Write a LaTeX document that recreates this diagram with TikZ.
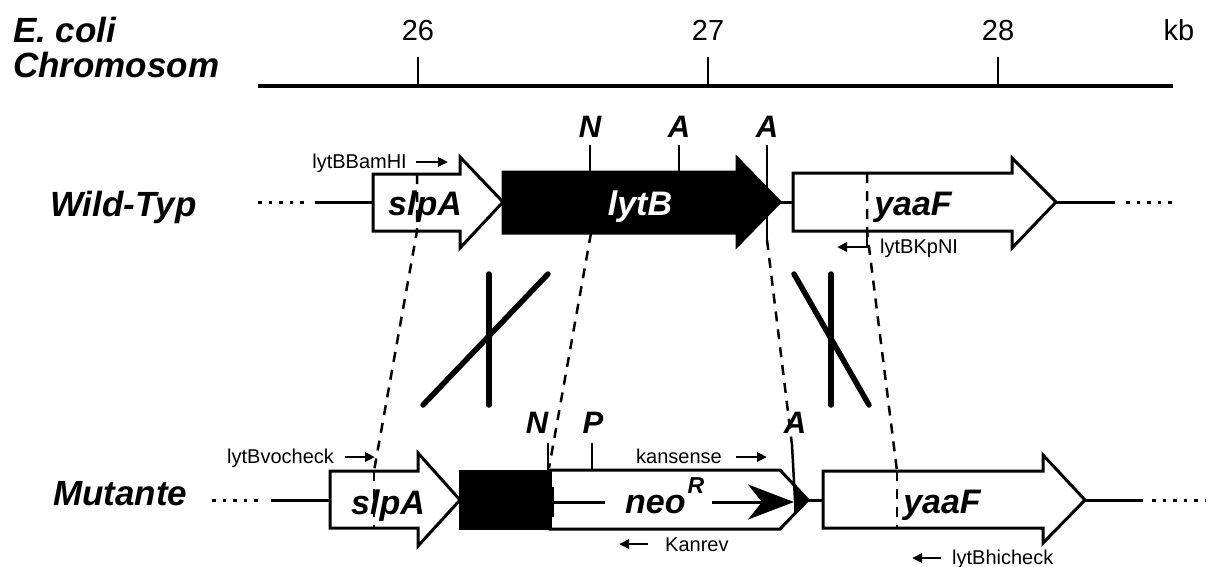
\documentclass[tikz,border=0pt]{standalone}
\usepackage{fontspec}
\setmainfont{Liberation Sans}
\usetikzlibrary{arrows.meta}
\tikzset{
  gene/.style={draw=black, line width=3pt, fill=white, line join=miter},
  blackgene/.style={draw=black, line width=3pt, fill=black, line join=miter},
  title/.style={font=\fontsize{35}{40}\selectfont\bfseries\itshape, inner sep=0pt, anchor=base west},
  glab/.style={font=\fontsize{34}{40}\selectfont\bfseries\itshape, inner sep=0pt, anchor=base},
  site/.style={font=\fontsize{31}{36}\selectfont\bfseries\itshape, inner sep=0pt, anchor=base},
  num/.style={font=\fontsize{29}{34}\selectfont, inner sep=0pt, anchor=base},
  primer/.style={font=\fontsize{20}{24}\selectfont, inner sep=0pt},
  parrow/.style={line width=2.5pt, -{Triangle[length=10pt,width=9pt]}},
  tick/.style={line width=2.5pt},
  dline/.style={line width=2.5pt, dash pattern=on 10pt off 8pt},
  dots/.style={line width=3pt, dash pattern=on 3.5pt off 7pt},
  axis/.style={line width=3pt},
  cross/.style={line width=5.5pt, line cap=round},
}
\begin{document}
\begin{tikzpicture}[x=1pt,y=-1pt]
\useasboundingbox (0,0) rectangle (1208,566);
% scale
\node[title] (ecoli) at (13,42) {E. coli};
\node[title] (chrom) at (13,77) {Chromosom};
\draw[line width=4pt] (258,86) -- (1173,86);
\draw[tick] (418,57) -- (418,86);
\draw[tick] (708,57) -- (708,86);
\draw[tick] (998,57) -- (998,86);
\node[num] (n26) at (418,40) {26};
\node[num] (n27) at (708,40) {27};
\node[num] (n28) at (998,40) {28};
\node[num] (kb) at (1179,40) {kb};

% ---------- wild type ----------
\node[title] (wt) at (50,216) {Wild-Typ};
\draw[dots] (258,202) -- (306,202);
\draw[axis] (315,202) -- (1115,202);
\draw[dots] (1126,202) -- (1178,202);
\draw[gene] (373,174) -- (460,174) -- (460,157) -- (503,202) -- (460,248) -- (460,231) -- (373,231) -- cycle;
\draw[blackgene] (503,172) -- (737,172) -- (737,158) -- (780,202) -- (737,246) -- (737,233) -- (503,233) -- cycle;
\draw[gene] (793,173) -- (1012,173) -- (1012,158) -- (1056,202) -- (1012,248) -- (1012,231) -- (793,231) -- cycle;
\node[glab] (slpAw) at (425,215) {slpA};
\node[glab, text=white] (lytB) at (640,215) {lytB};
\node[glab] (yaaFw) at (913,215) {yaaF};
% sites
\draw[tick] (590,145) -- (590,172);
\draw[tick] (679,145) -- (679,172);
\draw[tick] (767,145) -- (767,240);
\node[site] (Nw) at (590,137) {N};
\node[site] (A1w) at (679,137) {A};
\node[site] (A2w) at (767,137) {A};
% primers
\node[primer, anchor=base east] (bam) at (407,168) {lytBBamHI};
\draw[parrow] (416,162) -- (448,162);
\draw[line width=2.5pt, -{Triangle[length=10pt,width=9pt]}] (867,231) -- (867,247) -- (837,247);
\node[primer, anchor=base west] (kpn) at (880,253) {lytBKpNI};

% ---------- dashed correspondence lines ----------
\draw[dline] (417,174) -- (417,231) -- (374,471) -- (374,528);
\draw[dline] (591,233) -- (549,468);
\draw[dline] (767,240) -- (792,445);
\draw[dline] (867,173) -- (867,231) -- (897,471) -- (897,528);

% ---------- crossovers ----------
\draw[cross] (489,274) -- (489,405);
\draw[cross] (548,274) -- (423,405);
\draw[cross] (831,274) -- (831,405);
\draw[cross] (794,274) -- (869,405);

% ---------- mutant ----------
\node[title] (mut) at (53,505) {Mutante};
\draw[dots] (212,500) -- (264,500);
\draw[axis] (271,500) -- (1143,500);
\draw[dots] (1152,500) -- (1205,500);
\draw[gene] (330,471) -- (418,471) -- (418,453) -- (460,500) -- (418,546) -- (418,528) -- (330,528) -- cycle;
\draw[gene] (550,470) -- (780,470) -- (808,500) -- (780,529) -- (550,529) -- cycle;
\fill[black] (794,486) -- (808,500) -- (794,514) -- cycle;
\fill[black] (458.5,469.5) rectangle (551.5,529.5);
\fill[black] (549,487) rectangle (554,517);
\draw[gene] (823,471) -- (1043,471) -- (1043,455) -- (1085,500) -- (1043,543) -- (1043,528) -- (823,528) -- cycle;
\draw[dline] (374,471) -- (374,528);
\draw[dline] (897,471) -- (897,528);
\node[glab] (slpAm) at (388,514) {slpA};
\node[glab] (yaaFm) at (942,513) {yaaF};
% neo
\draw[line width=3pt] (553,502) -- (605,502);
\draw[line width=3pt, -{Stealth[length=46pt,width=35pt,inset=14pt]}] (712,502) -- (794,502);
\node[glab, anchor=base west] (neo) at (625,513) {neo\kern2pt\raisebox{20pt}{\fontsize{23}{26}\selectfont R}};
% sites
\draw[tick] (548,443) -- (548,470);
\draw[tick] (592,443) -- (592,470);
\draw[tick] (792,445) -- (795,500);
\node[site] (Nm) at (537,433) {N};
\node[site] (Pm) at (593,433) {P};
\node[site] (Am) at (795,433) {A};
% primers
\node[primer, anchor=base west] (voc) at (227,463) {lytBvocheck};
\draw[parrow] (345,457) -- (375,457);
\node[primer, anchor=base west] (kans) at (636,463) {kansense};
\draw[parrow] (736,457) -- (767,457);
\draw[parrow] (648,544) -- (619,544);
\node[primer, anchor=base west] (kanr) at (665,551) {Kanrev};
\draw[parrow] (941,558) -- (912,558);
\node[primer, anchor=base west] (hic) at (952,564) {lytBhicheck};
\end{tikzpicture}
\end{document}
